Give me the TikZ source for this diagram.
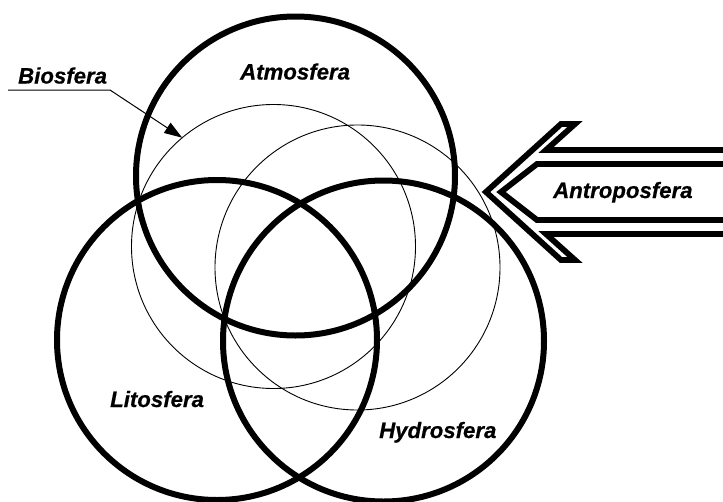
\documentclass[tikz,border=0pt]{standalone}
\usepackage{fontspec}
\setmainfont{Liberation Sans}
\usetikzlibrary{arrows.meta}
\begin{document}
\begin{tikzpicture}[x=1pt,y=-1pt,
  sphere/.style={circle,draw,line width=6pt,inner sep=0pt,outer sep=0pt},
  biosph/.style={circle,draw,line width=0.9pt,inner sep=0pt,outer sep=0pt},
  lbl/.style={font=\fontsize{22.2}{26}\selectfont\bfseries\itshape\addfontfeature{FakeBold=0.6},
    inner sep=0pt,anchor=base west},
  band/.style={line width=5.8pt,line join=miter,miter limit=10},
  leader/.style={line width=1pt,-{Triangle[length=18pt,width=12pt]}}]
\useasboundingbox (0,0) rectangle (723,501);
\clip (0,0) rectangle (723,501);

% the three main spheres
\node[sphere,minimum size=319pt] (atm) at (295.5,176) {};
\node[sphere,minimum size=320pt] (lit) at (217,340) {};
\node[sphere,minimum size=321pt] (hyd) at (383.5,341) {};

% biosphere rings
\node[biosph,minimum size=284pt] (bioA) at (273.5,246.5) {};
\node[biosph,minimum size=285pt] (bioB) at (357.5,267.5) {};

% labels
\node[lbl] (tAtm) at (240,79.5) {Atmosfera};
\node[lbl] (tLit) at (110,407) {Litosfera};
\node[lbl] (tHyd) at (379,438) {Hydrosfera};
\node[lbl] (tAnt) at (553,198) {Antroposfera};
\node[lbl] (tBio) at (18,83.5) {Biosfera};

% underline and pointer of the biosphere label
\coordinate (ulL) at (8,90);
\coordinate (ulR) at (110,90);
\draw[leader] (ulL) -- (ulR) -- (bioA.130);

% hollow arrow of the anthroposphere
\draw[band] (740,150) -- (546,150) -- (575,124) -- (561,124) -- (486,192)
  -- (561,260) -- (575,260) -- (546,234) -- (740,234);
\draw[band] (740,164) -- (537,164) -- (501,192) -- (537,220) -- (740,220);
\end{tikzpicture}
\end{document}
